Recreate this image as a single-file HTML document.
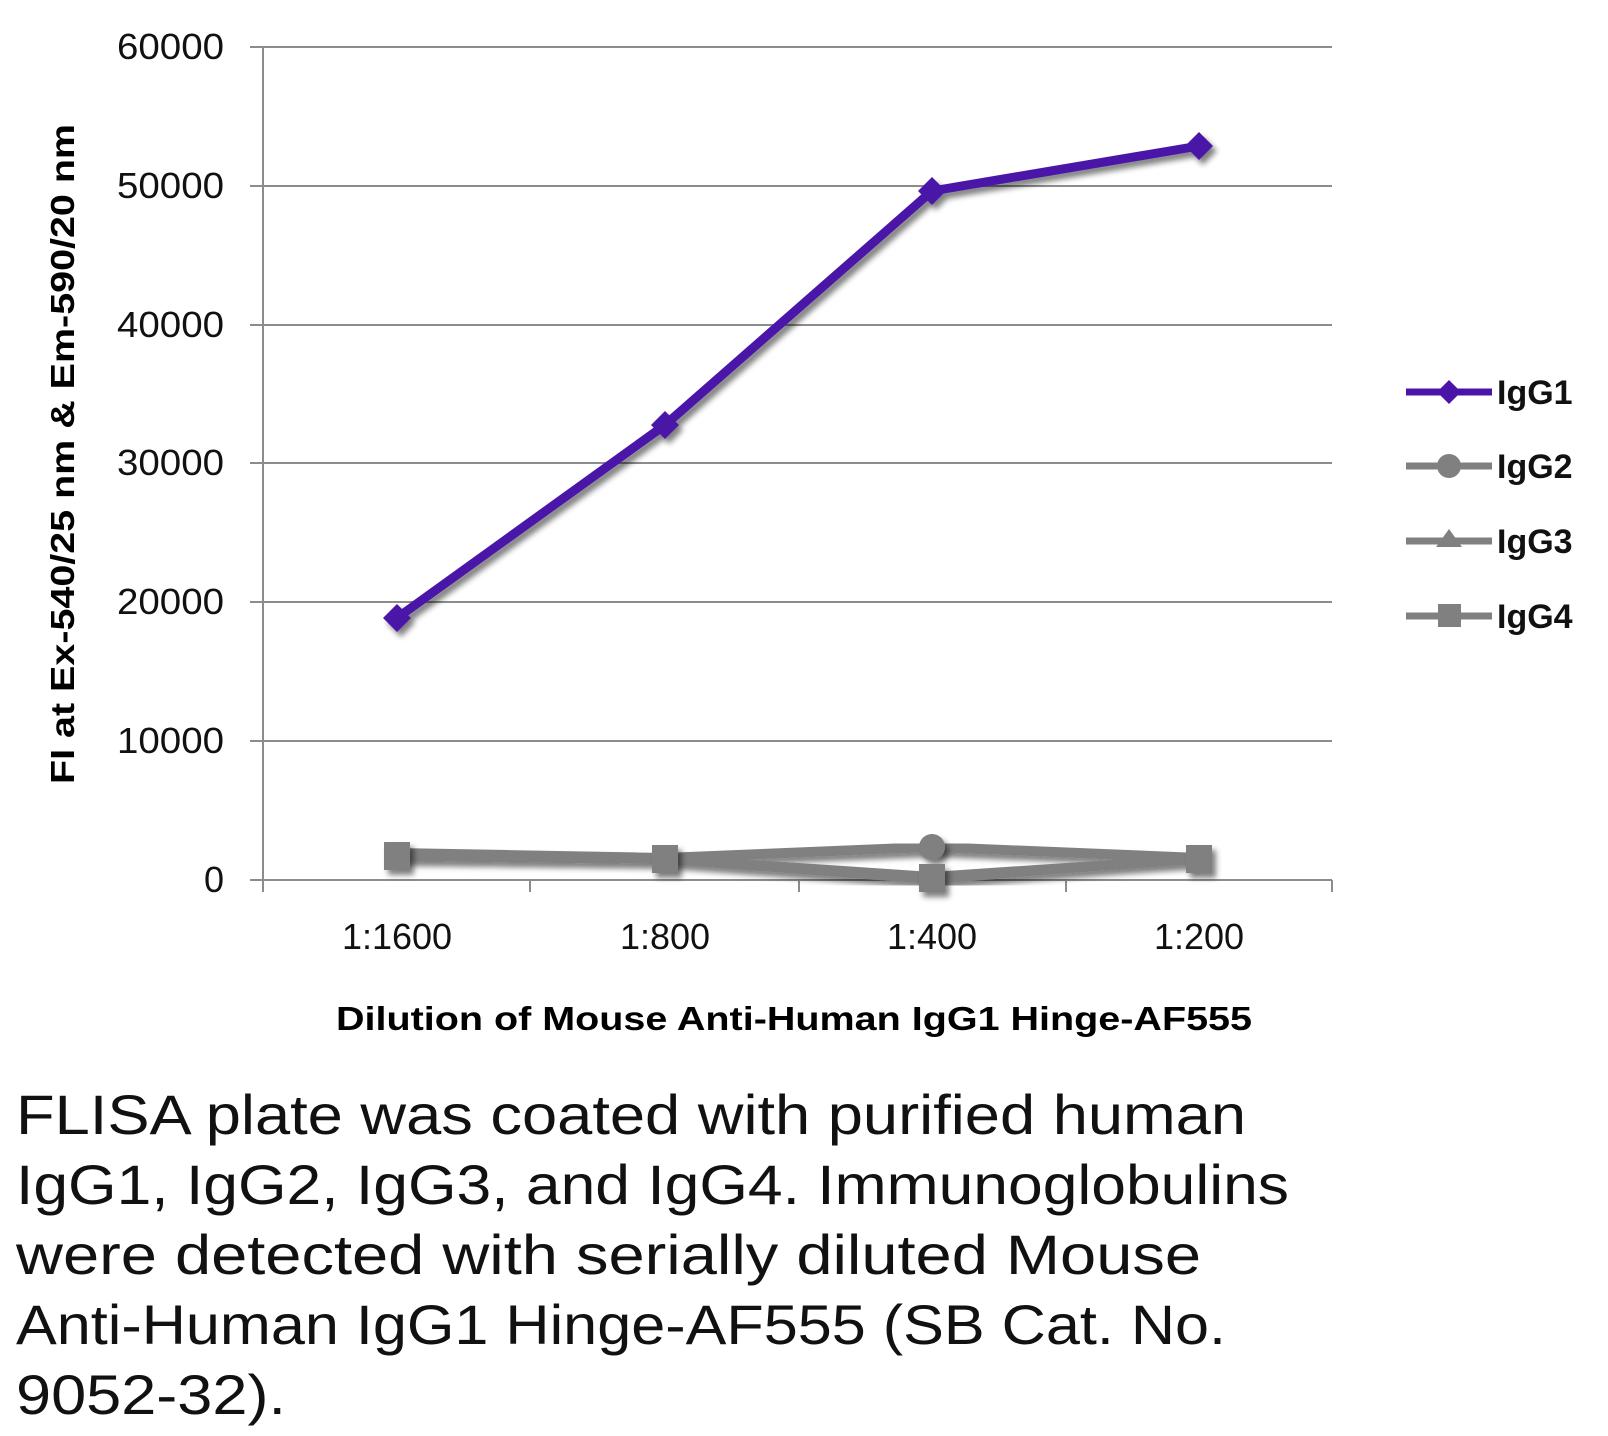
<!DOCTYPE html>
<html><head><meta charset="utf-8"><style>html,body{margin:0;padding:0;background:#fff}svg{display:block}</style></head>
<body>
<svg width="1608" height="1436" viewBox="0 0 1608 1436" xmlns="http://www.w3.org/2000/svg" font-family="'Liberation Sans', sans-serif">
<defs><filter id="sh" x="-10%" y="-10%" width="130%" height="130%"><feGaussianBlur in="SourceAlpha" stdDeviation="3"/><feOffset dx="4" dy="5"/><feComponentTransfer><feFuncA type="linear" slope="0.5"/></feComponentTransfer><feMerge><feMergeNode/><feMergeNode in="SourceGraphic"/></feMerge></filter></defs>
<g stroke="#8c8c8c" stroke-width="2">
<line x1="250" x2="1332" y1="47" y2="47"/><line x1="250" x2="1332" y1="186" y2="186"/><line x1="250" x2="1332" y1="325" y2="325"/><line x1="250" x2="1332" y1="463" y2="463"/><line x1="250" x2="1332" y1="602" y2="602"/><line x1="250" x2="1332" y1="741" y2="741"/><line x1="250" x2="1332" y1="880" y2="880"/>
<line x1="263" x2="263" y1="47" y2="892"/><line x1="530" x2="530" y1="880" y2="892"/><line x1="799" x2="799" y1="880" y2="892"/><line x1="1066" x2="1066" y1="880" y2="892"/><line x1="1332" x2="1332" y1="880" y2="892"/>
</g>
<g font-size="36" fill="#111" text-anchor="end">
<text x="224" y="59" textLength="107" lengthAdjust="spacingAndGlyphs">60000</text><text x="224" y="198" textLength="107" lengthAdjust="spacingAndGlyphs">50000</text><text x="224" y="337" textLength="107" lengthAdjust="spacingAndGlyphs">40000</text><text x="224" y="475" textLength="107" lengthAdjust="spacingAndGlyphs">30000</text><text x="224" y="614" textLength="107" lengthAdjust="spacingAndGlyphs">20000</text><text x="224" y="753" textLength="107" lengthAdjust="spacingAndGlyphs">10000</text><text x="224" y="892">0</text>
</g>
<g font-size="36" fill="#111" text-anchor="middle">
<text x="397" y="949">1:1600</text><text x="665" y="949">1:800</text><text x="932" y="949">1:400</text><text x="1199" y="949">1:200</text>
</g>
<text x="794" y="1030" font-size="33" font-weight="bold" text-anchor="middle" textLength="916" lengthAdjust="spacingAndGlyphs">Dilution of Mouse Anti-Human IgG1 Hinge-AF555</text>
<text transform="translate(74,454) rotate(-90)" font-size="33" font-weight="bold" text-anchor="middle" textLength="660" lengthAdjust="spacingAndGlyphs">FI at Ex-540/25 nm &amp; Em-590/20 nm</text>
<g filter="url(#sh)" stroke="#808080" stroke-width="10" fill="none" stroke-linejoin="round">
<polyline points="397,853 665,858 932,847 1199,858"/>
<polyline points="397,856 665,859 932,877 1199,859"/>
<polyline points="397,856 665,859 932,879 1199,858"/>
</g>
<g filter="url(#sh)" fill="#808080">
<circle cx="932" cy="847" r="13"/>
<rect x="384" y="842" width="26" height="28"/><rect x="652" y="845" width="26" height="28"/><rect x="919" y="864" width="26" height="28"/><rect x="1186" y="845" width="26" height="28"/>
</g>
<g filter="url(#sh)">
<polyline points="397,618 665,425 932,191 1199,146" fill="none" stroke="#4a14a8" stroke-width="9" stroke-linejoin="round"/>
<g fill="#4a14a8"><path d="M397,604 L411,618 L397,632 L383,618Z"/><path d="M665,411 L679,425 L665,439 L651,425Z"/><path d="M932,177 L946,191 L932,205 L918,191Z"/><path d="M1199,132 L1213,146 L1199,160 L1185,146Z"/></g>
</g>
<g stroke-width="7">
<line x1="1406" x2="1492" y1="392" y2="392" stroke="#4a14a8"/><path d="M1449,380 L1461,392 L1449,404 L1437,392Z" fill="#4a14a8"/>
<line x1="1406" x2="1492" y1="466" y2="466" stroke="#808080"/><circle cx="1449" cy="466" r="12" fill="#808080"/>
<line x1="1406" x2="1492" y1="541" y2="541" stroke="#808080"/><path d="M1449,529 L1462,547 L1436,547Z" fill="#808080"/>
<line x1="1406" x2="1492" y1="616" y2="616" stroke="#808080"/><rect x="1438" y="604" width="23" height="23" fill="#808080"/>
</g>
<g font-size="34" font-weight="bold" fill="#111">
<text x="1497" y="404">IgG1</text><text x="1497" y="478">IgG2</text><text x="1497" y="553">IgG3</text><text x="1497" y="628">IgG4</text>
</g>
<g font-size="56" fill="#111">
<text x="16" y="1134" textLength="1230" lengthAdjust="spacingAndGlyphs">FLISA plate was coated with purified human</text>
<text x="16" y="1204" textLength="1273" lengthAdjust="spacingAndGlyphs">IgG1, IgG2, IgG3, and IgG4.  Immunoglobulins</text>
<text x="16" y="1274" textLength="1185" lengthAdjust="spacingAndGlyphs">were detected with serially diluted Mouse</text>
<text x="16" y="1344" textLength="1210" lengthAdjust="spacingAndGlyphs">Anti-Human IgG1 Hinge-AF555 (SB Cat. No.</text>
<text x="16" y="1414" textLength="270" lengthAdjust="spacingAndGlyphs">9052-32).</text>
</g>
</svg>
</body></html>
